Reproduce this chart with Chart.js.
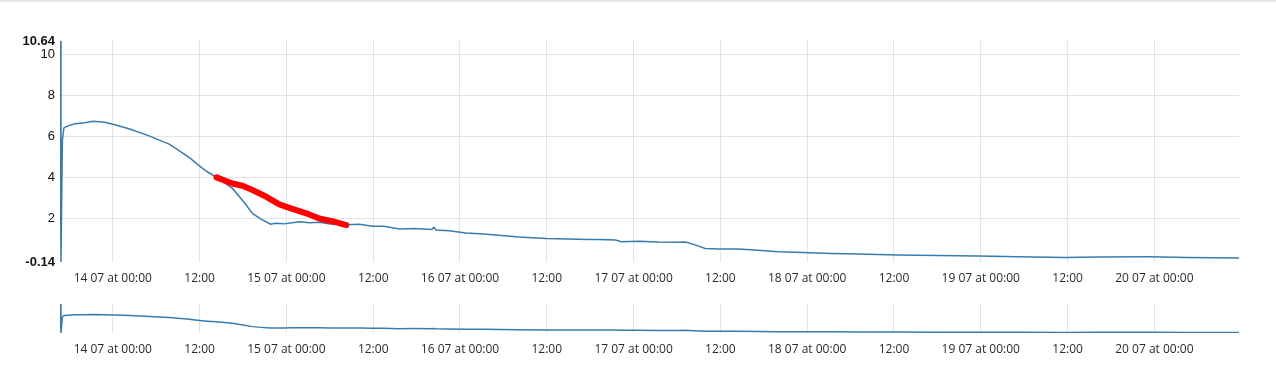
<!DOCTYPE html>
<html>
<head>
<meta charset="utf-8">
<script src="https://cdn.jsdelivr.net/npm/chart.js@4"></script>
<style>
  html, body { margin: 0; padding: 0; background: #fff; }
  body { width: 1276px; height: 387px; position: relative; overflow: hidden; }
  #topline { position: absolute; left: 0; top: 0; width: 1276px; height: 2px; background: #e8e8e8; }
  #main { position: absolute; left: 0; top: 0; width: 1276px; height: 290px; }
  #nav { position: absolute; left: 0; top: 290px; width: 1276px; height: 97px; }
</style>
</head>
<body>
<div id="topline"></div>
<div id="main"><canvas id="chart-main"></canvas></div>
<div id="nav"><canvas id="chart-nav"></canvas></div>
<script>
// hours relative to 14 07 at 00:00
const X_MIN = -7.3;
const X_MAX = 155.7;
const Y_MIN = -0.14;
const Y_MAX = 10.64;
const xTicks = [0, 12, 24, 36, 48, 60, 72, 84, 96, 108, 120, 132, 144];
const yTicks = [-0.14, 2, 4, 6, 8, 10, 10.64];

const seriesHours = [
  -7.3, -7.17, -6.97, -6.76, -6.2, -5.24, -3.86, -2.76, -1.1, 0.28, 2.34, 5.1, 7.86, 10.6, 11.97, 13.1,
  14.3, 16.55, 18.2, 19.3, 20.5, 21.8, 22.5, 23.7, 24.8, 25.8, 27.2, 28.55, 30.3, 32.0, 34.1, 35.9,
  37.5, 39.6, 41.7, 44.1, 44.4, 44.7, 46.5, 48.8, 51.3, 53.4, 56.1, 59.9, 63.0, 65.8, 67.2, 69.5,
  70.3, 72.7, 75.4, 78.2, 79.2, 80.3, 81.9, 83.7, 86.5, 89.2, 92.0, 95.4, 99.3, 103.0, 108.6, 114.1,
  119.6, 125.1, 131.6, 136.2, 143.4, 148.5, 155.7
];
const seriesValues = [
  10.64, -0.14, 5.8, 6.4, 6.5, 6.6, 6.65, 6.72, 6.68, 6.55, 6.35, 6.0, 5.6, 4.95, 4.55, 4.25,
  4.0, 3.45, 2.75, 2.23, 1.95, 1.7, 1.75, 1.72, 1.78, 1.82, 1.78, 1.8, 1.7, 1.68, 1.7, 1.6,
  1.6, 1.47, 1.5, 1.45, 1.55, 1.42, 1.38, 1.28, 1.22, 1.17, 1.08, 1.01, 0.98, 0.96, 0.96, 0.93,
  0.85, 0.87, 0.83, 0.82, 0.84, 0.72, 0.52, 0.49, 0.49, 0.43, 0.36, 0.32, 0.28, 0.25, 0.2, 0.18,
  0.15, 0.12, 0.08, 0.1, 0.11, 0.08, 0.06
];

const highlightHours = [14.34, 16.55, 17.93, 19.31, 21.24, 23.03, 24.41, 25.79, 27.17, 28.55, 30.34, 32.28];
const highlightValues = [3.99, 3.69, 3.58, 3.37, 3.04, 2.67, 2.5, 2.34, 2.18, 1.98, 1.85, 1.66];

const BLUE = '#3a7bae';
const RED = '#ff0000';
const GRID = '#e3e3e3';

const toPoints = (xs, ys) => xs.map((x, i) => ({ x, y: ys[i] }));

function xLabel(v) {
  if (v % 24 === 0) return `${14 + v / 24} 07 at 00:00`;
  return '12:00';
}

function xScale(height) {
  return {
    type: 'linear',
    min: X_MIN,
    max: X_MAX,
    afterBuildTicks: (s) => { s.ticks = xTicks.map((v) => ({ value: v })); },
    afterFit: (s) => { s.height = height; },
    grid: { color: GRID, drawTicks: false },
    border: { display: false },
    ticks: {
      autoSkip: false,
      maxRotation: 0,
      padding: 9,
      color: '#2a2a2a',
      font: { family: '"Open Sans", sans-serif', size: 12 },
      callback: xLabel,
    },
  };
}

new Chart(document.getElementById('chart-main'), {
  type: 'line',
  data: {
    datasets: [
      {
        data: toPoints(highlightHours, highlightValues),
        borderColor: RED,
        borderWidth: 6,
        borderCapStyle: 'round',
        borderJoinStyle: 'round',
        pointRadius: 0,
        tension: 0,
      },
      {
        data: toPoints(seriesHours, seriesValues),
        borderColor: BLUE,
        borderWidth: 1.5,
        pointRadius: 0,
        tension: 0,
      },
    ],
  },
  options: {
    responsive: true,
    maintainAspectRatio: false,
    animation: false,
    layout: { padding: { top: 41, right: 37, left: 0, bottom: 0 } },
    plugins: { legend: { display: false }, tooltip: { enabled: false } },
    scales: {
      x: xScale(28),
      y: {
        min: Y_MIN,
        max: Y_MAX,
        afterBuildTicks: (s) => { s.ticks = yTicks.map((v) => ({ value: v })); },
        afterFit: (s) => { s.width = 60; },
        grid: {
          drawTicks: false,
          color: (ctx) => (ctx.tick && (ctx.tick.value === Y_MIN || ctx.tick.value === Y_MAX) ? 'rgba(0,0,0,0)' : GRID),
        },
        border: { display: false },
        ticks: {
          padding: 5,
          color: '#111',
          font: (ctx) => ({
            family: 'Arial, "Liberation Sans", sans-serif',
            size: 13,
            weight: ctx.tick && (ctx.tick.value === Y_MIN || ctx.tick.value === Y_MAX) ? 'bold' : 'normal',
          }),
          callback: (v) => String(v),
        },
      },
    },
  },
});

new Chart(document.getElementById('chart-nav'), {
  type: 'line',
  data: {
    datasets: [{
      data: toPoints(seriesHours, seriesValues),
      borderColor: BLUE,
      borderWidth: 1.5,
      pointRadius: 0,
      tension: 0,
    }],
  },
  options: {
    responsive: true,
    maintainAspectRatio: false,
    animation: false,
    layout: { padding: { top: 14, right: 37, left: 60, bottom: 0 } },
    plugins: { legend: { display: false }, tooltip: { enabled: false } },
    scales: {
      x: xScale(54),
      y: { display: false, min: Y_MIN, max: Y_MAX },
    },
  },
});
</script>
</body>
</html>
